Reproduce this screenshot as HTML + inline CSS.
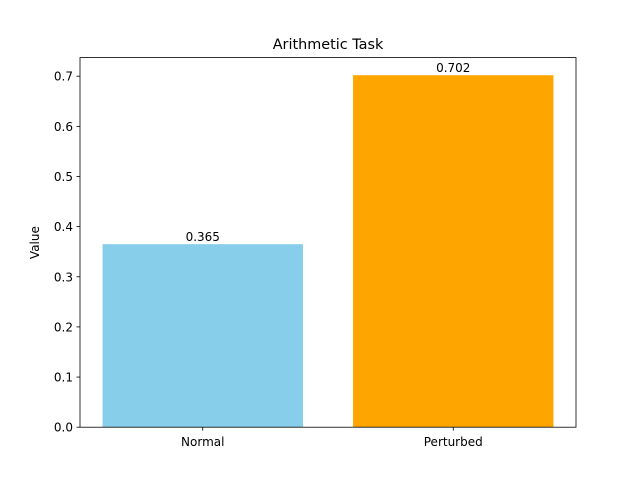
<!DOCTYPE html>
<html><head><meta charset="utf-8"><style>
body{margin:0;background:#fff}
svg{display:block;font-family:"DejaVu Sans","Liberation Sans",sans-serif}
</style></head><body>
<svg id="chart" width="640" height="480">
<rect width="640" height="480" fill="#fff"/>
<text x="328" y="49" text-anchor="middle" font-size="14.4">Arithmetic Task</text>
<text transform="translate(39,242.6) rotate(-90)" text-anchor="middle" font-size="12">Value</text>
<g id="bars"></g><g id="yticks"></g><g id="xticks"></g>
<rect x="80" y="57.6" width="496" height="369.6" fill="none" stroke="#000" stroke-width="0.8"/>
</svg>
<script>
const categories = ["Normal","Perturbed"];
const values = [0.365,0.702];
const valueLabels = ["0.365","0.702"];
const colors = ["#87ceeb","#ffa500"];
const yTicks = [0,0.1,0.2,0.3,0.4,0.5,0.6,0.7];
const yTickLabels = ["0.0","0.1","0.2","0.3","0.4","0.5","0.6","0.7"];
const L=80,R=576,T=57.6,B=427.2,NS="http://www.w3.org/2000/svg";
const ymax=Math.max(...values)*1.05;
const xmin=-0.4-0.05*(categories.length-0.2), xmax=categories.length-1+0.4+0.05*(categories.length-0.2);
const X=v=>L+(v-xmin)/(xmax-xmin)*(R-L);
const Y=v=>B-v/ymax*(B-T);
function mk(t,a,p){const e=document.createElementNS(NS,t);for(const k in a)e.setAttribute(k,a[k]);p.appendChild(e);return e;}
const gb=document.getElementById('bars'),gy=document.getElementById('yticks'),gx=document.getElementById('xticks');
values.forEach((v,i)=>{
  const r=mk('rect',{x:X(i-0.4),y:Y(v),width:X(i+0.4)-X(i-0.4),height:B-Y(v),fill:colors[i]},gb);
  
  
  const t=mk('text',{x:X(i),y:Y(v)-3,'text-anchor':'middle','font-size':12},gb);t.textContent=valueLabels[i];
  
  
  mk('line',{x1:X(i),x2:X(i),y1:B,y2:B+3.5,stroke:'#000','stroke-width':0.8},gx);
  const xt=mk('text',{x:X(i),y:B+19,'text-anchor':'middle','font-size':12},gx);xt.textContent=categories[i];
  
  
});
yTicks.forEach((v,i)=>{
  mk('line',{x1:L-3.5,x2:L,y1:Y(v),y2:Y(v),stroke:'#000','stroke-width':0.8},gy);
  const t=mk('text',{x:L-7,y:Y(v)+4.5,'text-anchor':'end','font-size':12},gy);t.textContent=yTickLabels[i];
  
  
});
</script>
</body></html>
